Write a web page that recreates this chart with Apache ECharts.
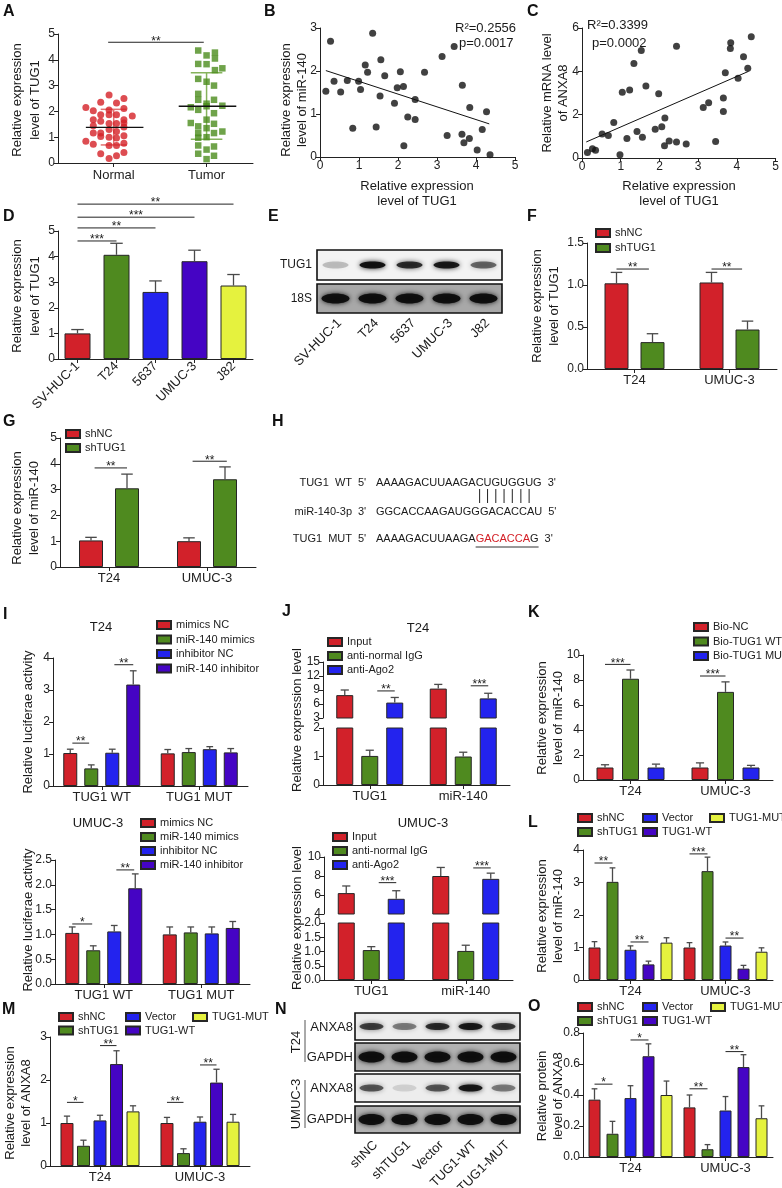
<!DOCTYPE html>
<html><head><meta charset="utf-8">
<script src="https://cdn.jsdelivr.net/npm/echarts@6/dist/echarts.min.js"></script>
<style>html,body{margin:0;padding:0;background:#fff}#c{width:782px;height:1188px}</style>
</head><body><div id="c"></div>
<script>
// ================= DATA =================
// A
const aCategories = ['Normal', 'Tumor'];
const aNormal = [[-0.05,2.64],[0.11,2.50],[-0.14,2.35],[0.03,2.33],[-0.30,2.15],[0.11,2.11],[-0.22,2.03],[-0.14,1.87],[-0.05,1.87],[0.03,1.87],[0.20,1.82],[-0.22,1.68],[0.11,1.68],[-0.14,1.62],[-0.05,1.53],[0.03,1.53],[-0.22,1.44],[0.11,1.40],[-0.05,1.30],[-0.14,1.16],[0.03,1.22],[-0.22,1.16],[0.11,1.06],[-0.14,1.03],[-0.05,1.00],[0.03,0.97],[-0.30,0.84],[0.11,0.77],[-0.22,0.73],[-0.05,0.68],[0.03,0.68],[-0.14,0.36],[0.11,0.41],[0.03,0.28],[-0.05,0.17],[0.11,1.55],[-0.05,2.05]];
const aTumor = [[-0.09,4.36],[0.09,4.28],[0.0,4.17],[0.09,4.05],[-0.09,3.84],[0.0,3.83],[0.09,3.60],[0.17,3.67],[-0.09,3.26],[0.0,3.15],[-0.09,2.68],[-0.09,2.45],[0.08,2.45],[0.0,2.30],[-0.17,2.16],[0.17,2.22],[-0.09,2.06],[0.08,1.93],[0.0,1.68],[-0.17,1.55],[0.08,1.52],[-0.09,1.42],[0.0,1.35],[0.17,1.22],[-0.09,1.16],[0.08,1.16],[0.0,1.00],[-0.09,0.98],[-0.09,0.68],[0.08,0.64],[0.0,0.52],[-0.09,0.36],[0.08,0.28],[0.0,0.15],[0.0,2.20],[0.08,3.00]];
const aMean = [1.38, 2.20];
const aSdLow = [0.70, 0.92];
const aSdHigh = [2.08, 3.50];
const aSig = [[0.94, 1.97, 4.68]];
const aSigLabels = ['**'];
// B
const bPoints = [[0.15,1.53],[0.27,2.69],[0.36,1.76],[0.53,1.51],[0.70,1.78],[0.84,0.67],[0.99,1.76],[1.04,1.57],[1.16,2.14],[1.22,1.97],[1.35,2.88],[1.44,0.70],[1.54,1.42],[1.56,2.26],[1.66,1.89],[1.91,1.25],[1.98,1.61],[2.06,1.98],[2.14,1.64],[2.15,0.26],[2.25,0.93],[2.44,1.34],[2.44,0.87],[2.68,1.97],[3.13,2.34],[3.26,0.50],[3.44,2.57],[3.65,1.67],[3.64,0.53],[3.69,0.33],[3.84,1.15],[3.83,0.43],[4.03,0.16],[4.16,0.64],[4.27,1.05],[4.36,0.05]];
const bFitLine = [[0.15,2.01],[4.34,0.77]];
const bStats = ['R\u00b2=0.2556', 'p=0.0017'];
// C
const cPoints = [[0.14,0.25],[0.27,0.43],[0.35,0.36],[0.52,1.11],[0.68,1.04],[0.82,1.64],[0.98,0.15],[1.04,3.04],[1.16,0.90],[1.23,3.14],[1.34,4.36],[1.42,1.22],[1.53,4.96],[1.56,0.96],[1.65,3.32],[1.89,1.33],[1.98,2.97],[2.06,1.44],[2.13,0.57],[2.14,1.85],[2.25,0.79],[2.44,5.16],[2.44,0.74],[2.69,0.65],[3.13,2.33],[3.27,2.55],[3.45,0.76],[3.65,2.77],[3.65,2.15],[3.70,3.94],[3.83,5.05],[3.84,5.32],[4.03,3.68],[4.17,4.67],[4.28,4.14],[4.37,5.60]];
const cFitLine = [[0.11,0.74],[4.30,4.00]];
const cStats = ['R\u00b2=0.3399', 'p=0.0002'];
// D
const dCategories = ['SV-HUC-1','T24','5637','UMUC-3','J82'];
const dValues = [1.00, 4.07, 2.62, 3.82, 2.87];
const dErrTop = [1.15, 4.52, 3.05, 4.25, 3.30];
const dSig = [[0,0,4,0,6.05],[0,0,3,0,5.54],[0,0,2,0,5.12],[0,0,1,0,4.61]];
const dSigLabels = ['**','***','**','***'];
// E (band intensities)
const eLanes = ['SV-HUC-1','T24','5637','UMUC-3','J82'];
const eTUG1 = [0.22, 0.95, 0.8, 0.9, 0.55];
const e18S = [0.95, 0.95, 0.95, 0.95, 0.95];
// F
const fCategories = ['T24','UMUC-3'];
const fSeries = ['shNC','shTUG1'];
const fValues = [[1.02,1.03],[0.32,0.47]];
const fErrTop = [[1.15,1.15],[0.42,0.57]];
const fSig = [[0,0,0,0.9,1.19],[1,0,1,0.85,1.19]];
const fSigLabels = ['**','**'];
// G
const gCategories = ['T24','UMUC-3'];
const gSeries = ['shNC','shTUG1'];
const gValues = [[1.03,1.00],[3.05,3.40]];
const gErrTop = [[1.15,1.13],[3.60,3.88]];
const gSig = [[0,0.1,0,1,3.84],[1,0.1,1,1.05,4.10]];
const gSigLabels = ['**','**'];
// H
const hRows = [
  ['TUG1  WT', "5'", 'AAAAGACUUAAGACUGUGGUG', "3'"],
  ['miR-140-3p', "3'", 'GGCACCAAGAUGGGACACCAU', "5'"],
  ['TUG1  MUT', "5'", 'AAAAGACUUAAGAGACACCAG', "3'"]
];
const hSiteStart = 13, hSiteEnd = 20;
// I
const iCategories = ['TUG1 WT','TUG1 MUT'];
const iSeries = ['mimics NC','miR-140 mimics','inhibitor NC','miR-140 inhibitor'];
const iT24Values = [[1.03,1.02],[0.55,1.06],[1.04,1.15],[3.17,1.05]];
const iT24ErrTop = [[1.15,1.14],[0.66,1.17],[1.15,1.23],[3.60,1.17]];
const iT24Sig = [[0,0.1,0,0.9,1.34],[0,2.1,0,3,3.79]];
const iT24SigLabels = ['**','**'];
const iUmucValues = [[1.03,1.00],[0.68,1.04],[1.06,1.02],[1.93,1.13]];
const iUmucErrTop = [[1.15,1.15],[0.77,1.15],[1.18,1.15],[2.22,1.26]];
const iUmucSig = [[0,0,0,0.95,1.21],[0,2.1,0,2.95,2.30]];
const iUmucSigLabels = ['*','**'];
// J
const jCategories = ['TUG1','miR-140'];
const jSeries = ['Input','anti-normal IgG','anti-Ago2'];
const jT24Values = [[7.9,9.3],[1.02,1.00],[6.3,7.2]];
const jT24ErrTop = [[9.0,10.2],[1.22,1.15],[7.4,8.3]];
const jT24Sig = [[0,1.3,0,2,8.8],[1,1.3,1,2,9.9]];
const jT24SigLabels = ['**','***'];
const jUmucValues = [[6.2,8.0],[1.05,1.02],[5.6,7.7]];
const jUmucErrTop = [[6.95,8.9],[1.17,1.22],[6.45,8.3]];
const jUmucSig = [[0,1.3,0,2,7.3],[1,1.3,1,2,8.85]];
const jUmucSigLabels = ['***','***'];
// K
const kCategories = ['T24','UMUC-3'];
const kSeries = ['Bio-NC','Bio-TUG1 WT','Bio-TUG1 MUT'];
const kValues = [[1.0,1.0],[8.1,7.05],[1.0,1.0]];
const kErrTop = [[1.22,1.37],[8.8,7.85],[1.27,1.17]];
const kSig = [[0,0,0,1,9.25],[1,0,1,1,8.32]];
const kSigLabels = ['***','***'];
// L, M, O
const lmoSeries = ['shNC','shTUG1','Vector','TUG1-WT','TUG1-MUT'];
const lmoCategories = ['T24','UMUC-3'];
const lValues = [[1.0,1.0],[3.02,3.35],[0.93,1.06],[0.48,0.35],[1.15,0.87]];
const lErrTop = [[1.18,1.15],[3.45,3.78],[1.05,1.17],[0.58,0.45],[1.30,0.99]];
const lSig = [[0,0,0,1,3.6],[0,2,0,3,1.17],[1,0,1,1,3.88],[1,2,1,3,1.29]];
const lSigLabels = ['**','**','***','**'];
const mValues = [[1.0,1.0],[0.47,0.30],[1.06,1.03],[2.37,1.94],[1.27,1.03]];
const mErrTop = [[1.16,1.13],[0.60,0.40],[1.18,1.14],[2.68,2.25],[1.40,1.20]];
const mSig = [[0,0,0,1,1.48],[0,2,0,3,2.8],[1,0,1,1,1.48],[1,2,1,3,2.35]];
const mSigLabels = ['*','**','**','**'];
const oValues = [[0.37,0.32],[0.15,0.05],[0.38,0.30],[0.65,0.58],[0.40,0.25]];
const oErrTop = [[0.44,0.40],[0.23,0.08],[0.46,0.39],[0.73,0.66],[0.49,0.33]];
const oSig = [[0,0,0,1,0.47],[0,2,0,3,0.755],[1,0,1,1,0.44],[1,2,1,3,0.68]];
const oSigLabels = ['*','*','**','**'];
// N (band intensities)
const nLanes = ['shNC','shTUG1','Vector','TUG1-WT','TUG1-MUT'];
const nT24ANXA8 = [0.7, 0.45, 0.8, 0.9, 0.75];
const nT24GAPDH = [0.95, 0.95, 0.95, 0.95, 0.95];
const nUmucANXA8 = [0.6, 0.12, 0.6, 0.9, 0.45];
const nUmucGAPDH = [0.95, 0.95, 0.95, 0.95, 0.95];

// ================= STYLE / BUILD =================
const FONT = '"Liberation Sans", Arial, Helvetica, sans-serif';
const AX = '#222';
const RED='#d2212a', GREEN='#4f8a1f', BLUE='#2323ee', PURPLE='#4504c4', YELLOW='#e5f23e';
const grid=[], xAxis=[], yAxis=[], series=[], legend=[], graphic=[];

function addGrid(r){ grid.push({left:r[0], top:r[1], width:r[2], height:r[3], containLabel:false}); return grid.length-1; }
function yVal(gi, min, max, interval, dec){
  return {type:'value', gridIndex:gi, min, max, interval, splitLine:{show:false},
    axisLine:{show:true, lineStyle:{color:AX, width:1}}, axisTick:{show:true, length:4, lineStyle:{color:AX}},
    axisLabel:{fontSize:12, color:AX, margin:3, fontFamily:FONT, formatter:v=>Number(v).toFixed(dec||0)}};
}
function xCat(gi, cats, show, rotate){
  return {type:'category', gridIndex:gi, data:cats, show:show,
    axisLine:{show:true, lineStyle:{color:AX, width:1}}, axisTick:{show:true, alignWithLabel:true, length:4, lineStyle:{color:AX}},
    axisLabel:{fontSize:13, color:AX, margin:5, rotate:rotate||0, interval:0, fontFamily:FONT}};
}
function tstyle(text, size, align, va, extra){
  return Object.assign({text, font:size+'px '+FONT, fill:'#1a1a1a', align, textAlign:align, verticalAlign:va, textVerticalAlign:va}, extra||{});
}
function errRenderer(n, bw, gap){
  const step = bw*(1+gap/100);
  return function(params, api){
    const c=api.value(0), v=api.value(1), e=api.value(2), i=api.value(3);
    const p0=api.coord([c,v]), p1=api.coord([c,e]);
    const x=p0[0]+(i-(n-1)/2)*step, cap=bw*0.24;
    const st={stroke:'#4a4a4a', lineWidth:1.3};
    return {type:'group', children:[
      {type:'line', shape:{x1:x,y1:p0[1],x2:x,y2:p1[1]}, style:st},
      {type:'line', shape:{x1:x-cap,y1:p1[1],x2:x+cap,y2:p1[1]}, style:st}]};
  };
}
function sigRenderer(sig, labels, n, bw, gap){
  const step = bw*(1+gap/100);
  return function(params, api){
    const s=sig[params.dataIndex];
    const a=api.coord([s[0],s[4]]), b=api.coord([s[2],s[4]]);
    const x1=a[0]+(s[1]-(n-1)/2)*step, x2=b[0]+(s[3]-(n-1)/2)*step, y=a[1];
    return {type:'group', children:[
      {type:'line', shape:{x1,y1:y,x2,y2:y}, style:{stroke:'#222', lineWidth:1}},
      {type:'text', x:(x1+x2)/2, y:y+5, style:tstyle(labels[params.dataIndex], 12, 'center', 'bottom')}]};
  };
}
function barPanel(cfg){
  const gi = addGrid(cfg.rect);
  xAxis.push(xCat(gi, cfg.cats, cfg.xShow!==false, cfg.rotate));
  yAxis.push(yVal(gi, cfg.min, cfg.max, cfg.interval, cfg.dec));
  const n=cfg.values.length, bw=cfg.bw, gap=cfg.gap;
  cfg.values.forEach((row,i)=>{
    series.push({type:'bar', name:cfg.names ? cfg.names[i] : 'v'+gi, xAxisIndex:gi, yAxisIndex:gi,
      data: row.map((v,c)=>{
        if (cfg.hideBelow!=null && v<cfg.hideBelow) return null;
        return cfg.itemColors ? {value:v, itemStyle:{color:cfg.itemColors[c]}} : v; }),
      barWidth:bw, barGap:gap+'%', clip:true, silent:true, z:2,
      itemStyle:{color:cfg.colors ? cfg.colors[i] : RED, borderColor:'#262626', borderWidth:1}});
  });
  const ed=[];
  cfg.values.forEach((row,i)=>row.forEach((v,c)=>{
    const e=cfg.errs[i][c];
    if (cfg.errOk && !cfg.errOk(v,e)) return;
    ed.push([c,v,e,i]); }));
  series.push({type:'custom', xAxisIndex:gi, yAxisIndex:gi, data:ed, renderItem:errRenderer(n,bw,gap), z:3, silent:true});
  if (cfg.sig) series.push({type:'custom', xAxisIndex:gi, yAxisIndex:gi, data:cfg.sig.map(s=>[s[0],s[4]]),
    renderItem:sigRenderer(cfg.sig, cfg.sigLabels, n, bw, gap), z:4, silent:true, clip:false});
  return gi;
}
function addLegend(left, top, names, gap){
  legend.push({left, top, orient:'vertical', padding:0, itemWidth:14, itemHeight:8, itemGap:gap, icon:'rect',
    selectedMode:false, textStyle:{fontSize:11, color:'#222', lineHeight:12, fontFamily:FONT}, data:names});
}
function letter(x, y, ch){ graphic.push({type:'text', x, y, silent:true, style:tstyle(ch, 16, 'left', 'top', {font:'bold 16px '+FONT, fill:'#111'})}); }
function ytitle(x, y, lines, lh){ graphic.push({type:'text', x, y, rotation:Math.PI/2, silent:true, style:tstyle(lines.join('\n'), 13, 'center', 'middle', {lineHeight:lh||17})}); }
function label(x, y, t, size, align, extra){ graphic.push(Object.assign({type:'text', x, y, silent:true, style:tstyle(t, size, align||'left', 'middle')}, extra||{})); }
function blot(x, y, w, h, vals, bg, bwid, bhei){
  graphic.push({type:'rect', shape:{x, y, width:w, height:h}, silent:true, style:{fill:bg, stroke:'#111', lineWidth:1.6}});
  vals.forEach((v,i)=>{
    const cx = x + (i+0.5)*w/vals.length;
    graphic.push({type:'ellipse', shape:{cx, cy:y+h/2, rx:bwid/2, ry:bhei/2}, silent:true,
      style:{fill:'rgba(12,12,12,'+v+')', shadowBlur:5, shadowColor:'rgba(12,12,12,'+v+')'}});
  });
}
function laneLabels(x, w, names, yEnd){
  names.forEach((t,i)=>{
    const cx = x + (i+0.5)*w/names.length;
    graphic.push({type:'text', x:cx+4, y:yEnd, rotation:Math.PI/4, silent:true, style:tstyle(t, 13, 'right', 'middle')});
  });
}

// ---------- A ----------
(function(){
  const gi = addGrid([58,34,195,129]);
  xAxis.push({type:'value', gridIndex:gi, min:0.4, max:2.5, splitLine:{show:false},
    axisLine:{show:true, lineStyle:{color:AX}}, axisTick:{show:true, length:4, customValues:[1,2], lineStyle:{color:AX}},
    axisLabel:{fontSize:13, color:AX, margin:6, customValues:[1,2], fontFamily:FONT, formatter:v=>aCategories[Math.round(v)-1]}});
  yAxis.push(yVal(gi, 0, 5, 1, 0));
  const statData = aMean.map((m,i)=>[i+1, m]);
  const sdColors = ['#e27070','#86b35c'];
  series.push({type:'custom', xAxisIndex:gi, yAxisIndex:gi, data:statData, z:1, silent:true, renderItem:(p,api)=>{
    const i=p.dataIndex, g=i+1, half = i===0?0.14:0.17;
    const lo=api.coord([g, aSdLow[i]]), hi=api.coord([g, aSdHigh[i]]);
    const l1=api.coord([g-half, 0])[0], r1=api.coord([g+half,0])[0];
    const st={stroke:sdColors[i], lineWidth:1.5};
    return {type:'group', children:[
      {type:'line', shape:{x1:lo[0],y1:lo[1],x2:hi[0],y2:hi[1]}, style:st},
      {type:'line', shape:{x1:l1,y1:lo[1],x2:r1,y2:lo[1]}, style:st},
      {type:'line', shape:{x1:l1,y1:hi[1],x2:r1,y2:hi[1]}, style:st}]};
  }});
  series.push({type:'scatter', xAxisIndex:gi, yAxisIndex:gi, symbol:'circle', symbolSize:7, z:2, silent:true,
    itemStyle:{color:'#d42027'}, data:aNormal.map(d=>[1+d[0], d[1]])});
  series.push({type:'scatter', xAxisIndex:gi, yAxisIndex:gi, symbol:'rect', symbolSize:6.5, z:2, silent:true,
    itemStyle:{color:'#4b8c1d'}, data:aTumor.map(d=>[2+d[0], d[1]])});
  series.push({type:'custom', xAxisIndex:gi, yAxisIndex:gi, data:statData, z:3, silent:true, renderItem:(p,api)=>{
    const g=p.dataIndex+1, m=api.value(1);
    const a=api.coord([g-0.3, m]), b=api.coord([g+0.32, m]);
    return {type:'line', shape:{x1:a[0],y1:a[1],x2:b[0],y2:b[1]}, style:{stroke:'#111', lineWidth:1.3}};
  }});
  series.push({type:'custom', xAxisIndex:gi, yAxisIndex:gi, data:aSig.map(s=>[s[0],s[2]]), z:4, silent:true, clip:false, renderItem:(p,api)=>{
    const s=aSig[p.dataIndex]; const a=api.coord([s[0],s[2]]), b=api.coord([s[1],s[2]]);
    return {type:'group', children:[
      {type:'line', shape:{x1:a[0],y1:a[1],x2:b[0],y2:b[1]}, style:{stroke:'#222', lineWidth:1}},
      {type:'text', x:(a[0]+b[0])/2, y:a[1]+5, style:tstyle(aSigLabels[p.dataIndex], 12, 'center', 'bottom')}]};
  }});
})();

// ---------- B & C ----------
function scatterPanel(rect, pts, fit, ymax, yint){
  const gi = addGrid(rect);
  xAxis.push({type:'value', gridIndex:gi, min:0, max:5, interval:1, splitLine:{show:false},
    axisLine:{show:true, lineStyle:{color:AX}}, axisTick:{show:true, length:4, lineStyle:{color:AX}},
    axisLabel:{fontSize:12, color:AX, margin:3, fontFamily:FONT}});
  yAxis.push(yVal(gi, 0, ymax, yint, 0));
  series.push({type:'scatter', xAxisIndex:gi, yAxisIndex:gi, symbolSize:7, itemStyle:{color:'#111'}, data:pts, silent:true, z:2});
  series.push({type:'line', xAxisIndex:gi, yAxisIndex:gi, data:fit, symbol:'none', lineStyle:{color:'#111', width:1}, silent:true, z:3});
}
scatterPanel([320,28,195,129], bPoints, bFitLine, 3, 1);
scatterPanel([582,28,195,130], cPoints, cFitLine, 6, 2);

// ---------- D ----------
barPanel({rect:[58,231,195,128], cats:dCategories, values:[dValues], errs:[dErrTop], itemColors:[RED,GREEN,BLUE,PURPLE,YELLOW],
  names:['TUG1 level'], min:0, max:5, interval:1, bw:26, gap:0, rotate:45, sig:dSig, sigLabels:dSigLabels});
// ---------- F ----------
barPanel({rect:[587,243,190,126], cats:fCategories, names:fSeries, colors:[RED,GREEN], values:fValues, errs:fErrTop,
  min:0, max:1.5, interval:0.5, dec:1, bw:24, gap:50, sig:fSig, sigLabels:fSigLabels});
addLegend(595, 227, fSeries, 3);
// ---------- G ----------
barPanel({rect:[60,438,196,129], cats:gCategories, names:gSeries, colors:[RED,GREEN], values:gValues, errs:gErrTop,
  min:0, max:5, interval:1, bw:24, gap:50, sig:gSig, sigLabels:gSigLabels});
addLegend(65, 428, gSeries, 2);
// ---------- I ----------
const iColors=[RED,GREEN,BLUE,PURPLE];
barPanel({rect:[53,658,195,128], cats:iCategories, names:iSeries, colors:iColors, values:iT24Values, errs:iT24ErrTop,
  min:0, max:4, interval:1, bw:14, gap:50, sig:iT24Sig, sigLabels:iT24SigLabels});
addLegend(156, 619, iSeries, 2.5);
barPanel({rect:[55,860,195,124], cats:iCategories, names:iSeries, colors:iColors, values:iUmucValues, errs:iUmucErrTop,
  min:0, max:2.5, interval:0.5, dec:1, bw:14, gap:50, sig:iUmucSig, sigLabels:iUmucSigLabels});
addLegend(140, 817, iSeries, 2);
// ---------- J (broken axes) ----------
const jColors=[RED,GREEN,BLUE];
barPanel({rect:[323,662,187,56], cats:jCategories, names:jSeries, colors:jColors, values:jT24Values, errs:jT24ErrTop,
  min:3, max:15, interval:3, bw:17, gap:47, xShow:false, hideBelow:3, errOk:(v,e)=>v>=3, sig:jT24Sig, sigLabels:jT24SigLabels});
barPanel({rect:[323,728,187,57], cats:jCategories, names:jSeries, colors:jColors, values:jT24Values, errs:jT24ErrTop,
  min:0, max:2, interval:1, bw:17, gap:47, errOk:(v,e)=>e<=2});
addLegend(327, 636, jSeries, 2);
barPanel({rect:[324,857,189,57], cats:jCategories, names:jSeries, colors:jColors, values:jUmucValues, errs:jUmucErrTop,
  min:4, max:10, interval:2, bw:17, gap:47, xShow:false, hideBelow:4, errOk:(v,e)=>v>=4, sig:jUmucSig, sigLabels:jUmucSigLabels});
barPanel({rect:[324,923,189,57], cats:jCategories, names:jSeries, colors:jColors, values:jUmucValues, errs:jUmucErrTop,
  min:0, max:2, interval:0.5, dec:1, bw:17, gap:47, errOk:(v,e)=>e<=2});
addLegend(332, 831, jSeries, 2);
// ---------- K ----------
barPanel({rect:[583,655,190,125], cats:kCategories, names:kSeries, colors:[RED,GREEN,BLUE], values:kValues, errs:kErrTop,
  min:0, max:10, interval:2, bw:17, gap:50, sig:kSig, sigLabels:kSigLabels});
addLegend(693, 621, kSeries, 2.5);
// ---------- L, M, O ----------
const lmoColors=[RED,GREEN,BLUE,PURPLE,YELLOW];
barPanel({rect:[583,850,190,130], cats:lmoCategories, names:lmoSeries, colors:lmoColors, values:lValues, errs:lErrTop,
  min:0, max:4, interval:1, bw:12, gap:50, sig:lSig, sigLabels:lSigLabels});
addLegend(577, 812, ['shNC','shTUG1'], 2); addLegend(642, 812, ['Vector','TUG1-WT'], 2); addLegend(709, 812, ['TUG1-MUT'], 2);
barPanel({rect:[50,1037,200,129], cats:lmoCategories, names:lmoSeries, colors:lmoColors, values:mValues, errs:mErrTop,
  min:0, max:3, interval:1, bw:13, gap:27, sig:mSig, sigLabels:mSigLabels});
addLegend(58, 1011, ['shNC','shTUG1'], 1.5); addLegend(125, 1011, ['Vector','TUG1-WT'], 1.5); addLegend(192, 1011, ['TUG1-MUT'], 1.5);
barPanel({rect:[583,1033,190,124], cats:lmoCategories, names:lmoSeries, colors:lmoColors, values:oValues, errs:oErrTop,
  min:0, max:0.8, interval:0.2, dec:1, bw:12, gap:50, sig:oSig, sigLabels:oSigLabels});
addLegend(577, 1001, ['shNC','shTUG1'], 2); addLegend(642, 1001, ['Vector','TUG1-WT'], 2); addLegend(710, 1001, ['TUG1-MUT'], 2);

// ---------- letters ----------
[['A',3,4],['B',264,4],['C',527,4],['D',3,209],['E',268,209],['F',527,209],['G',3,414],['H',272,414],
 ['I',3,607],['J',282,604],['K',528,605],['L',528,815],['M',2,1002],['N',275,1002],['O',528,999]].forEach(l=>letter(l[1],l[2],l[0]));

// ---------- axis titles ----------
ytitle(26,100,['Relative expression','level of TUG1'],18);
ytitle(294,100,['Relative expression','level of miR-140'],16);
ytitle(555,93,['Relative mRNA level','of ANXA8'],16);
ytitle(26,296,['Relative expression','level of TUG1'],18);
ytitle(546,306,['Relative expression','level of TUG1'],17);
ytitle(26,508,['Relative expression','level of miR-140'],17);
ytitle(28,722,['Relative luciferae activity']);
ytitle(28,920,['Relative luciferae activity']);
ytitle(297,720,['Relative expression level']);
ytitle(297,918,['Relative expression level']);
ytitle(550,718,['Relative expression','level of miR-140'],16);
ytitle(550,916,['Relative expression','level of miR-140'],16);
ytitle(18,1103,['Relative expression','level of ANXA8'],16);
ytitle(550,1096,['Relative protein','level of ANXA8'],16);
graphic.push({type:'text', x:417, y:194, silent:true, style:tstyle('Relative expression\nlevel of TUG1', 13, 'center', 'middle', {lineHeight:15})});
graphic.push({type:'text', x:679, y:194, silent:true, style:tstyle('Relative expression\nlevel of TUG1', 13, 'center', 'middle', {lineHeight:15})});
// stats text
label(455, 28, bStats[0], 13); label(459, 43, bStats[1], 13);
label(587, 25, cStats[0], 13); label(592, 43, cStats[1], 13);
// panel titles
label(101, 627, 'T24', 13, 'center'); label(98, 823, 'UMUC-3', 13, 'center');
label(418, 628, 'T24', 13, 'center'); label(423, 823, 'UMUC-3', 13, 'center');

// ---------- E blot ----------
blot(317, 250, 185, 30, eTUG1, '#f3f3f3', 26, 7);
blot(317, 284, 185, 29, e18S, '#a8a8a8', 28, 10);
label(312, 265, 'TUG1', 12, 'right'); label(312, 299, '18S', 12, 'right');
laneLabels(317, 185, eLanes, 321);

// ---------- N blot ----------
blot(355, 1013, 165, 27, nT24ANXA8, '#ededed', 24, 7);
blot(355, 1043, 165, 28, nT24GAPDH, '#b2b2b2', 26, 11);
blot(355, 1074, 165, 28, nUmucANXA8, '#ededed', 24, 7);
blot(355, 1106, 165, 27, nUmucGAPDH, '#b2b2b2', 26, 11);
label(353, 1027, 'ANXA8', 13, 'right'); label(353, 1057, 'GAPDH', 13, 'right');
label(353, 1088, 'ANXA8', 13, 'right'); label(353, 1119, 'GAPDH', 13, 'right');
graphic.push({type:'line', shape:{x1:305,y1:1020,x2:305,y2:1062}, silent:true, style:{stroke:'#555', lineWidth:1}});
graphic.push({type:'line', shape:{x1:305,y1:1080,x2:305,y2:1128}, silent:true, style:{stroke:'#555', lineWidth:1}});
graphic.push({type:'text', x:296, y:1042, rotation:Math.PI/2, silent:true, style:tstyle('T24', 13, 'center', 'middle')});
graphic.push({type:'text', x:296, y:1104, rotation:Math.PI/2, silent:true, style:tstyle('UMUC-3', 13, 'center', 'middle')});
laneLabels(355, 165, nLanes, 1143);

// ---------- H sequences ----------
(function(){
  const cv=document.createElement('canvas').getContext('2d');
  const SZ=11; cv.font=SZ+'px '+FONT;
  const W=s=>cv.measureText(s).width;
  const seqX=376, rowsY=[483,512,539];
  hRows.forEach((r,k)=>{
    const y=rowsY[k];
    label(352, y, r[0], SZ, 'right');
    label(358, y, r[1], SZ, 'left');
    if (k===2){
      const a=r[2].slice(0,hSiteStart), b=r[2].slice(hSiteStart,hSiteEnd), c=r[2].slice(hSiteEnd);
      label(seqX, y, a, SZ); 
      graphic.push({type:'text', x:seqX+W(a), y, silent:true, style:tstyle(b, SZ, 'left', 'middle', {fill:'#d42027'})});
      label(seqX+W(a)+W(b), y, c, SZ);
    } else label(seqX, y, r[2], SZ);
    label(seqX+W(r[2])+6, y, r[3], SZ);
  });
  const s0=hRows[0][2];
  for (let i=hSiteStart;i<hSiteEnd;i++){
    const x=seqX+W(s0.slice(0,i))+W(s0[i])/2;
    graphic.push({type:'line', shape:{x1:x,y1:489,x2:x,y2:503}, silent:true, style:{stroke:'#222', lineWidth:1}});
  }
  const s2=hRows[2][2];
  const ux1=seqX+W(s2.slice(0,hSiteStart)), ux2=seqX+W(s2.slice(0,hSiteEnd+1));
  graphic.push({type:'line', shape:{x1:ux1,y1:547,x2:ux2,y2:547}, silent:true, style:{stroke:'#333', lineWidth:1}});
})();

const chart = echarts.init(document.getElementById('c'), null, {renderer:'canvas'});
chart.setOption({backgroundColor:'#fff', animation:false, textStyle:{fontFamily:FONT},
  grid, xAxis, yAxis, series, legend, graphic:{elements:graphic}});
</script></body></html>
